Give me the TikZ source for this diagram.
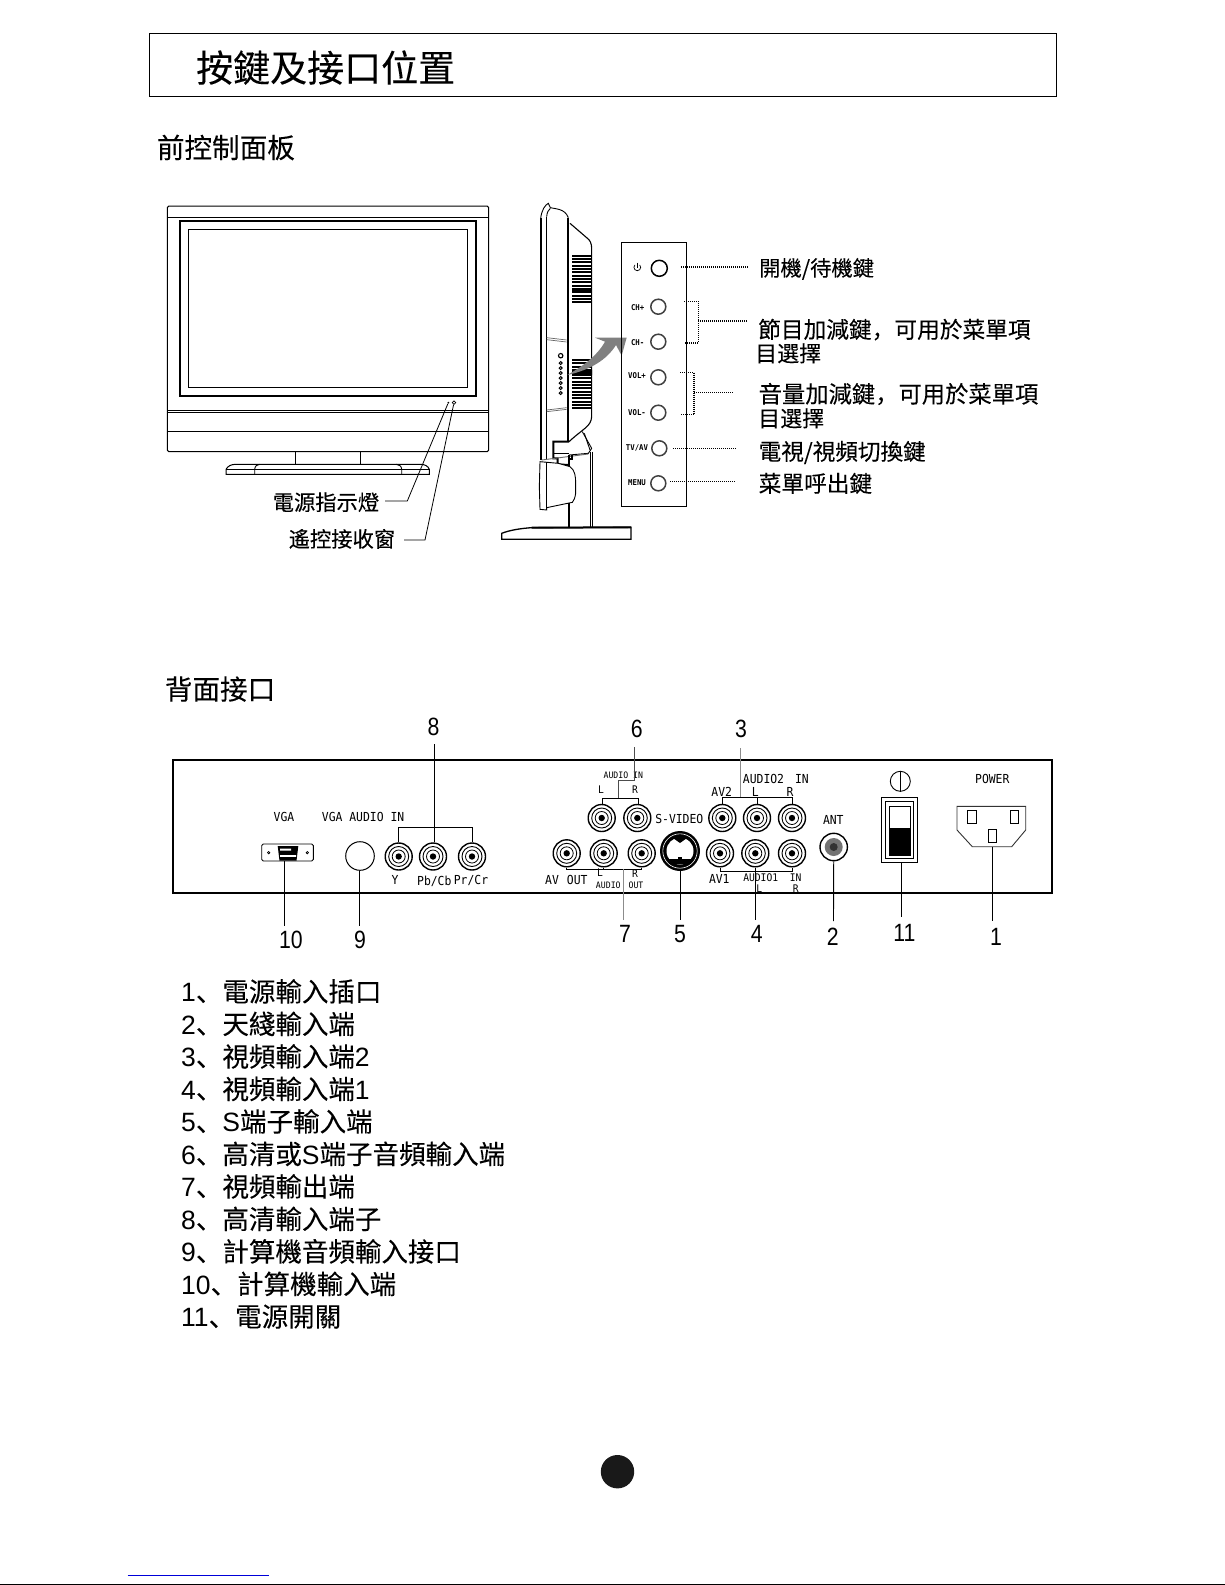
\documentclass[tikz,border=0pt]{standalone}
\usepackage{fontspec}
\setmainfont[RawFeature={embolden=0.12}]{Noto Sans CJK SC}
\newfontfamily\lmono[FakeStretch=.92]{DejaVu Sans Mono}
\newfontfamily\dig[FakeStretch=.85]{Liberation Sans}
\newfontfamily\lsans{Liberation Sans}
\newcommand\fs[1]{\fontsize{#1}{#1}\selectfont}
\newcommand\lat[1]{{\lsans #1}}
\tikzset{
  cjk/.style={inner sep=0,anchor=base west,text=black,font=\fs{#1}},
  numlab/.style={inner sep=0,font=\dig\fs{25}},
  lab/.style={inner sep=0,font=\lmono\fs{12.4}},
  labs/.style={inner sep=0,font=\lmono\fs{8.9}},
  labm/.style={inner sep=0,font=\lmono\fs{10.5}},
  btnlab/.style={inner sep=0,font=\lmono\bfseries\fs{8}},
  leader/.style={line width=.9pt,black},
  leaderg/.style={line width=.9pt,black!45},
  dots/.style={line width=1.2pt,dash pattern=on 1pt off 1pt},
  jack/.style={circle,draw,line width=1.4pt,minimum size=27pt,inner sep=0},
  btn/.style={circle,draw,line width=1.5pt,black!75,minimum size=15pt,inner sep=0},
  thin1/.style={line width=.9pt},
  thick2/.style={line width=2pt},
}
\newcommand\rca[3]{%
  \node[jack] (#1) at (#2,#3) {};
  \draw[line width=.9pt] (#1.center) circle[radius=10pt];
  \draw[line width=.8pt] (#1.center) circle[radius=6.5pt];
  \fill (#1.center) circle[radius=3.2pt];
}
\begin{document}
\begin{tikzpicture}[x=1pt,y=-1pt]
\useasboundingbox (0,0) rectangle (1225,1585);
\fill[white] (0,0) rectangle (1225,1585);
% heading
\draw[line width=.9pt] (149.6,33.4) rectangle (1056,96);
\node[cjk=37] (title) at (196,81.7) {按鍵及接口位置};
\node[cjk=27.6] (front) at (156.7,158) {前控制面板};
\node[cjk=27.6] (back) at (164.7,699.5) {背面接口};
% monitor
\draw[line width=1pt,rounded corners=1.5pt] (167.3,206) rectangle (488.7,451.7);
\draw[line width=1pt] (167.3,217.3) -- (488.7,217.3);
\draw[line width=2pt] (180,220.7) rectangle (476,396);
\draw[line width=1pt] (188.3,229.3) rectangle (467.3,387.3);
\draw[line width=1pt] (167.3,410.7) -- (488.7,410.7);
\draw[line width=1pt] (167.3,412.5) -- (488.7,412.5);
\draw[line width=1pt] (167.3,431.3) -- (488.7,431.3);
\draw[line width=1pt] (295.3,451.7) -- (295.3,464.3) (360.7,451.7) -- (360.7,464.3);
\draw[line width=1pt] (226,474.3) -- (226,469.3) .. controls (228,466) and (231,464.3) .. (236,464.3) -- (420,464.3) .. controls (425,464.3) and (428,466) .. (429.3,469.3) -- (429.3,474.3) -- cycle;
\draw[line width=.9pt] (226,469.3) -- (429.3,469.3);
\draw[line width=.9pt] (254.7,474.3) -- (254.7,469.3) .. controls (255,466) and (257,464.3) .. (260,464.3);
\draw[line width=.9pt] (401.7,474.3) -- (401.7,469.3) .. controls (401.5,466) and (399,464.3) .. (396,464.3);
\node[circle,fill=black,inner sep=0,minimum size=2pt] (led1) at (448.3,402.7) {};
\node[circle,draw,line width=.7pt,inner sep=0,minimum size=3.5pt] (led2) at (454,402.7) {};
\node[cjk=21.3] (pl1) at (272.5,510.3) {電源指示燈};
\node[cjk=21.3] (pl2) at (288.5,547) {遙控接收窗};
\coordinate (k1a) at (385,501); \coordinate (k1b) at (407.3,501);
\coordinate (k2a) at (404,540); \coordinate (k2b) at (425,540);
\draw[line width=.8pt] (k1a) -- (k1b) -- (led1);
\draw[line width=.8pt] (k2a) -- (k2b) -- (led2);
% side view, upper part
\begin{scope}[shift={(495,195)},x=.33333pt,y=-.33333pt]
\draw[thick2] (137,70) -- (137,540);
\draw[thin1] (137,70) .. controls (140,45) and (150,30) .. (160,25) -- (166,38) .. controls (180,42) and (210,40) .. (220,68);
\draw[thin1] (155,65) .. controls (156,52) and (160,45) .. (166,40);
\draw[thin1] (155,65) -- (155,540);
\draw[thick2] (220,68) -- (220,540);
\draw[line width=1.1pt] (225,85) -- (275,128) .. controls (285,135) and (290,145) .. (290,160) -- (290,540);
\draw[line width=.7pt,black!60] (155,428) -- (215,435) (155,434) -- (215,441);
\foreach \yy in {182,192,...,322} \draw[line width=1.9pt] (232,\yy) -- (288,\yy);
\draw[line width=3pt] (232,286) -- (288,286);
\foreach \yy in {182,212,...,322} \draw[white,line width=.8pt,dash pattern=on 4pt off 3pt] (262,\yy+5) -- (288,\yy+5);
\foreach \yy in {495,505,...,540} \draw[line width=1.9pt] (232,\yy) -- (288,\yy);
\end{scope}
% side view, lower part
\begin{scope}[shift={(495,370)},x=.33333pt,y=-.33333pt]
\draw[thick2] (137,0) -- (137,270);
\draw[thin1] (155,0) -- (155,270);
\draw[thick2] (220,0) -- (220,212);
\draw[line width=1.1pt] (290,0) -- (290,140) .. controls (288,170) and (265,175) .. (222,215);
\foreach \yy in {5,15,...,115} \draw[line width=1.9pt] (232,\yy) -- (288,\yy);
\draw[line width=.7pt,black!60] (155,125) -- (215,118) (155,120) -- (215,113);
\draw[thin1] (262,185) -- (290,235) -- (280,250) -- (222,255);
\draw[thin1] (268,190) -- (285,240);
\draw[thick2] (222,215) -- (175,215) -- (175,265) -- (188,265) -- (188,283) -- (220,285);
\draw[thin1] (175,250) -- (222,250);
\draw[line width=.9pt,black!60] (140,270) -- (280,252);
\draw[thick2] (232,255) -- (232,268) -- (222,268);
\draw[thick2] (222,255) -- (222,290);
\fill[white] (135,275) -- (190,280) -- (225,290) -- (242,340) -- (242,370) -- (232,397) -- (155,413) -- (135,418) -- cycle;
\draw[thin1] (135,275) -- (190,280) -- (225,290) .. controls (240,300) and (242,320) .. (242,340) -- (242,370) .. controls (240,385) and (236,392) .. (232,397) -- (155,413) -- (155,420) -- (135,418) -- (133,350) -- cycle;
\draw[thin1] (155,275) -- (155,413);
\draw[thick2] (222,400) -- (222,470);
\draw[thin1] (285,245) -- (285,472) (292,245) -- (292,472);
\draw[line width=1.3pt] (20,490) .. controls (45,480) and (80,475) .. (110,473) -- (408,472) -- (408,508) -- (20,508) -- cycle;
\draw[thick2] (110,473) -- (408,472);
\end{scope}
\foreach \yy in {363,368,373,378,383,388,393}
  \draw[line width=1pt] (560.7,\yy) circle[radius=1.5pt];
\draw[line width=1.1pt] (560.7,355.7) circle[radius=2.2pt];
% gray arrow
\begin{scope}[shift={(490,190)},x=.33333pt,y=-.33333pt]
\fill[black!50] (232,555) .. controls (275,530) and (320,500) .. (345,455) -- (315,443) -- (410,443) -- (395,497) -- (378,465) .. controls (350,510) and (300,540) .. (232,555) -- cycle;
\end{scope}
% button panel
\draw[line width=1pt] (621.3,242.3) rectangle (686.3,506);
\node[btn,minimum size=16pt,black] (b1) at (659.3,268.3) {};
\node[btn] (b2) at (658.3,306.7) {};
\node[btn] (b3) at (658.3,341.7) {};
\node[btn] (b4) at (658.3,377.3) {};
\node[btn] (b5) at (658.3,412.7) {};
\node[btn] (b6) at (659.3,448.3) {};
\node[btn] (b7) at (658.3,483.3) {};
\draw[line width=.7pt] (639.7,264.9) arc[start angle=45,end angle=-225,radius=3.4pt];
\draw[line width=.7pt] (637.3,262.6) -- (637.3,267.5);
\node[btnlab] (l2) at (637.7,307.3) {CH+};
\node[btnlab] (l3) at (637.7,343) {CH-};
\node[btnlab] (l4) at (637,376) {VOL+};
\node[btnlab] (l5) at (637,412.7) {VOL-};
\node[btnlab] (l6) at (637,448.3) {TV/AV};
\node[btnlab] (l7) at (637,483) {MENU};
% right labels
\node[cjk=21.3] (t1) at (759,276) {開機/待機鍵};
\node[cjk=22.7] (t2) at (758,338) {節目加減鍵，可用於菜單項};
\node[cjk=22] (t2b) at (755,361.7) {目選擇};
\node[cjk=23.3] (t3) at (758.5,402.7) {音量加減鍵，可用於菜單項};
\node[cjk=22] (t3b) at (758,426.7) {目選擇};
\node[cjk=22.6] (t4) at (758.5,460) {電視/視頻切換鍵};
\node[cjk=22.7] (t5) at (758.5,492) {菜單呼出鍵};
\coordinate (e1a) at (681.3,267); \coordinate (e1) at (748,267);
\draw[dots] (e1a) -- (e1);
\coordinate (c1) at (684.3,301.3); \coordinate (c2) at (698.3,301.3);
\coordinate (c3) at (698.3,343); \coordinate (c4) at (684.3,343);
\coordinate (c5) at (698.3,321); \coordinate (e2) at (748,321);
\draw[dots] (c1) -- (c2) -- (c3) -- (c4);
\draw[dots] (c5) -- (e2);
\coordinate (v1) at (680,372.7); \coordinate (v2) at (694,372.7);
\coordinate (v3) at (694,414.3); \coordinate (v4) at (680,414.3);
\coordinate (v5) at (694,392.3); \coordinate (e3) at (733,392.3);
\draw[dots] (v1) -- (v2) -- (v3) -- (v4);
\draw[dots] (v5) -- (e3);
\coordinate (e4a) at (673.3,448.3); \coordinate (e4) at (736,448.3);
\draw[dots] (e4a) -- (e4);
\coordinate (e5a) at (670,481.7); \coordinate (e5) at (736,481.7);
\draw[dots] (e5a) -- (e5);
% rear panel
\draw[line width=2.3pt] (173,760) rectangle (1051.7,892.7);
% VGA
\node[lab] (vgat) at (284,816.7) {VGA};
\node[lab,anchor=west] (vgaat) at (321.7,816.7) {VGA AUDIO IN};
\node[draw,line width=.9pt,rounded corners=1.5pt,minimum width=51.6pt,minimum height=17pt,inner sep=0] (vga) at (287.5,852.5) {};
\fill (277.7,846) -- (298.3,846) -- (296.5,860.7) -- (279.5,860.7) -- cycle;
\fill[white] (280,848.5) rectangle (291,850.5) (280,855) rectangle (296,856.8);
\draw[line width=.7pt] (268.7,852.7) circle[radius=1.2pt] (307.3,852.7) circle[radius=1.2pt];
\node[circle,draw,line width=1pt,minimum size=28.6pt,inner sep=0] (vgaa) at (360,856) {};
\rca{jy}{398.7}{856.5}
\rca{jb}{433}{856.5}
\rca{jr}{472}{856.5}
\node[lab] (ty) at (395,880) {Y};
\node[lab] (tb) at (434.3,881) {Pb/Cb};
\node[lab] (tr) at (471,880) {Pr/Cr};
\coordinate (br8a) at (398.7,827.3); \coordinate (br8b) at (472,827.3);
\draw[leader] (jy.north) -- (br8a) -- (br8b) -- (jr.north);
\coordinate (s8) at (434.3,744); \coordinate (m8) at (434.3,842);
\draw[leader] (s8) -- (m8);
% numbers
\node[numlab] (n8) at (433.5,727) {8};
\node[numlab] (n6) at (636.7,729) {6};
\node[numlab] (n3) at (741,729) {3};
\node[numlab] (n10) at (291,940) {10};
\node[numlab] (n9) at (360,940) {9};
\node[numlab] (n7) at (625,934.3) {7};
\node[numlab] (n5) at (680,934.3) {5};
\node[numlab] (n4) at (756.7,934.3) {4};
\node[numlab] (n2) at (832.7,937) {2};
\node[numlab] (n11) at (904.3,932.7) {11};
\node[numlab] (n1) at (996,936.7) {1};
\coordinate (q10) at (284.3,925.7); \coordinate (q9) at (359.5,925.7);
\draw[leader] (vga.south -| q10) -- (q10);
\draw[leader] (vgaa.south -| q9) -- (q9);
% upper jacks
\rca{j6l}{601.7}{818}
\rca{j6r}{637.3}{818}
\rca{j3a}{722.3}{818}
\rca{j3b}{757}{818}
\rca{j3c}{792}{818}
% lower jacks
\rca{j7a}{566.7}{853.3}
\rca{j7b}{603.7}{853.3}
\rca{j7c}{641.7}{853.3}
\rca{j4a}{720}{853.3}
\rca{j4b}{755.3}{853.3}
\rca{j4c}{792}{853.3}
% S-video
\node[circle,fill=black,minimum size=40pt,inner sep=0] (sv) at (680,851) {};
\draw[white,line width=.6pt] (sv.center) circle[radius=17.2pt];
\fill[white] (sv.center) circle[radius=13.5pt];
\fill (673,838) -- (680,843) -- (687,838) -- (680,836) -- cycle;
\fill (669,859) rectangle (691,864);
\fill (678,857) rectangle (682,864);
% ANT
\node[circle,draw,line width=1.4pt,fill=white,minimum size=27.4pt,inner sep=0] (ant) at (833.7,847) {};
\fill[black!55] (ant.center) circle[radius=9pt];
\fill[black!80] (ant.center) circle[radius=4pt];
% labels of the middle block
\node[labs] (tai) at (623.3,775) {AUDIO IN};
\node[labm] (t6l) at (601,790) {L};
\node[labm] (t6r) at (635,790) {R};
\node[lab] (tsv) at (679.3,819.3) {S-VIDEO};
\node[lab] (tav2) at (721.7,791.7) {AV2};
\node[lab,anchor=west] (ta2) at (742.7,779.3) {AUDIO2\hspace{11pt}IN};
\node[lab] (t2l) at (755.3,791.7) {L};
\node[lab] (t2r) at (790,791.7) {R};
\node[lab] (tant) at (833.3,820) {ANT};
\node[lab,anchor=west] (tao) at (545,880) {AV\hspace{8pt}OUT};
\node[labm] (t7l) at (600,873) {L};
\node[labs] (t7a) at (608.3,885) {AUDIO};
\node[labm] (t7r) at (635,874) {R};
\node[labs] (t7o) at (636,885) {OUT};
\node[lab] (tav1) at (719.3,879.3) {AV1};
\node[labm] (ta1) at (760.7,877.3) {AUDIO1};
\node[labm] (t1in) at (795.7,878) {IN};
\node[labm] (t1l) at (759.3,888.3) {L};
\node[labm] (t1r) at (795.7,888.3) {R};
% brackets and leaders of the middle block
\coordinate (br6a) at (602.3,798.3); \coordinate (br6b) at (638.3,798.3);
\draw[leader] (j6l.north -| br6a) -- (br6a) -- (br6b) -- (j6r.north -| br6b);
\coordinate (s6) at (634.3,747); \coordinate (m6a) at (634.3,780.7); \coordinate (m6b) at (618.3,780.7); \coordinate (m6c) at (618.3,798.3);
\draw[leaderg,black!70] (s6) -- (m6a) -- (m6b) -- (m6c);
\coordinate (br3a) at (722.3,797.3); \coordinate (br3b) at (792,797.3); \coordinate (br3m) at (757,797.3);
\draw[leader] (j3a.north) -- (br3a) -- (br3b) -- (j3c.north);
\draw[leader] (br3m) -- (j3b.north);
\coordinate (s3) at (740.3,748); \coordinate (m3) at (740.3,797.3);
\draw[leaderg] (s3) -- (m3);
\coordinate (br7a) at (566.7,869); \coordinate (br7b) at (641.7,869); \coordinate (br7m) at (603.7,869);
\draw[leader] (j7a.south) -- (br7a) -- (br7b) -- (j7c.south);
\draw[leader] (j7b.south) -- (br7m);
\coordinate (s7) at (623.7,869); \coordinate (m7) at (623.7,920);
\draw[leaderg] (s7) -- (m7);
\coordinate (br4a) at (720,871.7); \coordinate (br4b) at (792,871.7);
\draw[leader] (j4a.south) -- (br4a) -- (br4b) -- (j4c.south);
\coordinate (m4) at (755.3,920);
\draw[leader] (j4b.south) -- (m4);
\coordinate (m5) at (680,920);
\draw[leader] (sv.south) -- (m5);
\coordinate (m2) at (833.5,921);
\draw[leader] (ant.south) -- (m2);
% switch
\node[circle,draw,line width=.9pt,minimum size=20pt,inner sep=0] (swsym) at (900.3,781.3) {};
\draw[line width=.9pt] (swsym.north) -- (swsym.south);
\node[draw,line width=.9pt,minimum width=36pt,minimum height=65pt,inner sep=0] (sw) at (899.3,829.8) {};
\draw[line width=.9pt] (885.3,801) rectangle (913.7,858);
\draw[line width=.9pt] (889.3,806) rectangle (910,855);
\fill (889.3,828) rectangle (910,855);
\coordinate (m11) at (901,916.7);
\draw[leader] (sw.south -| m11) -- (m11);
% power socket
\node[lab] (tpow) at (992.3,779.3) {POWER};
\coordinate (so) at (992.7,846.7);
\draw[line width=.9pt,black!80] (957,806.3) -- (1025.7,806.3) -- (1025.7,830) -- (1011.7,846.7) -- (972.3,846.7) -- (957,830) -- cycle;
\draw[line width=.9pt] (967.3,810.3) rectangle (976.3,823.3);
\draw[line width=.9pt] (1010.3,810.3) rectangle (1018.7,823.3);
\draw[line width=.9pt] (988.7,829.3) rectangle (996.7,842.7);
\coordinate (m1) at (992.7,921);
\draw[leader] (so) -- (m1);
% list
\node[cjk=26.5] (i1) at (181,1001.5) {\lat{1}、電源輸入插口};
\node[cjk=26.5] (i2) at (181,1034) {\lat{2}、天綫輸入端};
\node[cjk=26.5] (i3) at (181,1066.5) {\lat{3}、視頻輸入端\lat{2}};
\node[cjk=26.5] (i4) at (181,1099) {\lat{4}、視頻輸入端\lat{1}};
\node[cjk=26.5] (i5) at (181,1131.5) {\lat{5}、\lat{S}端子輸入端};
\node[cjk=26.5] (i6) at (181,1164) {\lat{6}、高清或\lat{S}端子音頻輸入端};
\node[cjk=26.5] (i7) at (181,1196.5) {\lat{7}、視頻輸出端};
\node[cjk=26.5] (i8) at (181,1229) {\lat{8}、高清輸入端子};
\node[cjk=26.5] (i9) at (181,1261.5) {\lat{9}、計算機音頻輸入接口};
\node[cjk=26.5] (i10) at (181,1294) {\lat{10}、計算機輸入端};
\node[cjk=26.5] (i11) at (181,1326.5) {\lat{11}、電源開關};
% page foot
\fill[black!90] (617.5,1471.7) circle[radius=16.7pt];
\draw[blue!85!black,line width=1pt] (127.5,1575) -- (269,1575);
\draw[line width=1.3pt] (0,1584.2) -- (1225,1584.2);
\end{tikzpicture}
\end{document}
